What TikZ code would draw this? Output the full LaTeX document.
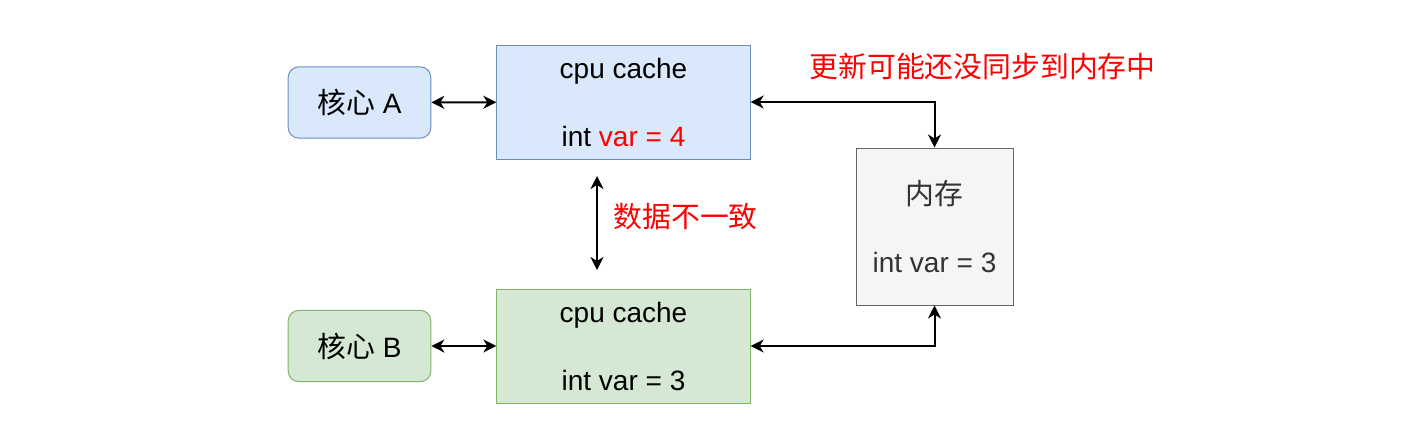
\documentclass[tikz,border=0pt]{standalone}
\usepackage{fontspec}
\setmainfont{Liberation Sans}
\newfontfamily\cjk[Scale=1.03]{Noto Sans CJK SC}
\usetikzlibrary{arrows.meta}
\definecolor{blueFill}{RGB}{218,232,252}
\definecolor{blueLine}{RGB}{108,142,191}
\definecolor{greenFill}{RGB}{213,232,212}
\definecolor{greenLine}{RGB}{130,179,102}
\definecolor{grayFill}{RGB}{245,245,245}
\definecolor{grayLine}{RGB}{102,102,102}
\definecolor{noteRed}{RGB}{255,0,0}
\tikzset{every picture/.style={line width=0.75pt}}
\tikzset{
  core/.style={draw, rounded corners=8pt, minimum width=107pt, minimum height=53.5pt, font=\fontsize{21}{25.5}\selectfont},
  cachebox/.style={draw, minimum width=190pt, minimum height=85.5pt, align=center, font=\fontsize{21}{25.5}\selectfont},
  link/.style={line width=1.5pt, {Stealth[length=9.75pt,width=9.75pt,inset=3pt]}-{Stealth[length=9.75pt,width=9.75pt,inset=3pt]}},
  note/.style={text=noteRed, anchor=west, inner sep=0pt, font=\fontsize{21}{25.5}\selectfont\cjk}
}

\begin{document}
\begin{tikzpicture}[x=0.75pt,y=0.75pt,yscale=-1,xscale=1]
\useasboundingbox (0,0) rectangle (1421,447);

% Text Node
\node [core, fill=blueFill, draw=blueLine] (coreA) at (359.5,102.5) {{\cjk 核心} A};
% Text Node
\node [core, fill=greenFill, draw=greenLine] (coreB) at (359.5,346) {{\cjk 核心} B};
% Text Node
\node [cachebox, fill=blueFill, draw=blueLine] (cacheA) at (623.5,102) {cpu cache\\[25.5pt]int \textcolor{noteRed}{var = 4}};
% Text Node
\node [cachebox, fill=greenFill, draw=greenLine] (cacheB) at (623.5,346) {cpu cache\\[25.5pt]int var = 3};
% Text Node
\node [cachebox, fill=grayFill, draw=grayLine, text=black!80, minimum width=117.75pt, minimum height=117.75pt] (mem) at (934.5,226.5) {{\cjk 内存}\\[25.5pt]int var = 3};
% Text Node
\node [note] (syncNote) at (809,67) {更新可能还没同步到内存中};
% Text Node
\node [note] (diffNote) at (613,217) {数据不一致};

\coordinate (diffTop) at (597,176);
\coordinate (diffBot) at (597,270);

% Connection
\draw [link] (coreA) -- (cacheA);
% Connection
\draw [link] (coreB) -- (cacheB);
% Connection
\draw [link] (cacheA.east) -| (mem.north);
% Connection
\draw [link] (cacheB.east) -| (mem.south);
% Connection
\draw [link] (diffTop) -- (diffBot);

\end{tikzpicture}
\end{document}
